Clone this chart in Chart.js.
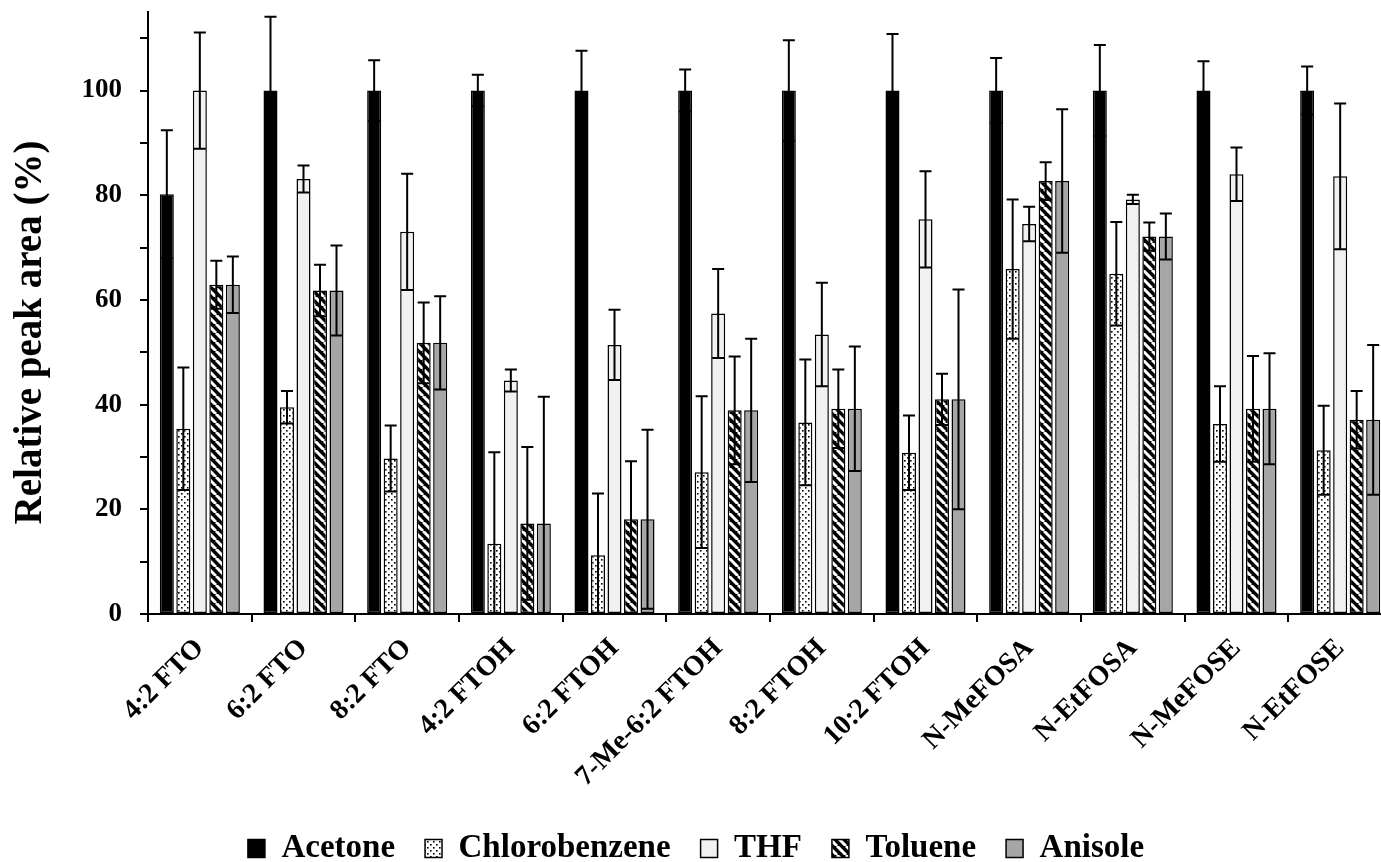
<!DOCTYPE html>
<html>
<head>
<meta charset="utf-8">
<script src="https://cdn.jsdelivr.net/npm/chart.js@4.4.0/dist/chart.umd.min.js"></script>
<style>
  html, body { margin: 0; padding: 0; background: #fff; overflow: hidden; }
  #wrap { position: absolute; left: 0; top: 0; width: 1400px; height: 862px; }
</style>
</head>
<body>
<div id="wrap"><canvas id="c"></canvas></div>
<script>
// ---- data ----
const categories = ['4:2 FTO', '6:2 FTO', '8:2 FTO', '4:2 FTOH', '6:2 FTOH', '7-Me-6:2 FTOH',
  '8:2 FTOH', '10:2 FTOH', 'N-MeFOSA', 'N-EtFOSA', 'N-MeFOSE', 'N-EtFOSE'];
const seriesNames = ['Acetone', 'Chlorobenzene', 'THF', 'Toluene', 'Anisole'];

const acetone    = [80.2, 100, 100, 100, 100, 100, 100, 100, 100, 100, 100, 100];
const acetoneErr = [12.2, 14.1, 5.8, 3.0, 7.6, 4.0, 9.6, 10.8, 6.2, 8.7, 5.6, 4.6];
const chloro     = [35.4, 39.5, 29.7, 13.4, 11.2, 27.1, 36.6, 30.8, 65.9, 65.0, 36.3, 31.3];
const chloroErr  = [11.7, 3.1, 6.3, 17.5, 11.8, 14.5, 12.0, 7.1, 13.3, 9.9, 7.2, 8.5];
const thf        = [100, 83.1, 73.0, 44.6, 51.4, 57.4, 53.4, 75.4, 74.5, 79.2, 84.0, 83.6];
const thfErr     = [11.1, 2.6, 11.1, 2.1, 6.7, 8.5, 9.9, 9.2, 3.3, 0.9, 5.1, 13.9];
const toluene    = [62.9, 61.8, 51.8, 17.3, 18.1, 38.9, 39.2, 41.0, 82.7, 72.1, 39.2, 37.1];
const tolueneErr = [4.6, 4.9, 7.7, 14.6, 11.1, 10.3, 7.5, 4.9, 3.6, 2.7, 10.1, 5.5];
const anisole    = [62.9, 61.8, 51.8, 17.3, 18.1, 38.9, 39.2, 41.0, 82.7, 72.1, 39.2, 37.1];
const anisoleErr = [5.4, 8.6, 8.9, 24.2, 17.1, 13.7, 11.9, 21.0, 13.7, 4.4, 10.6, 14.3];

const yTitle = 'Relative peak area (%)';

// ---- patterns ----
function makeTile(w, h, draw) {
  const c = document.createElement('canvas');
  c.width = w; c.height = h;
  const g = c.getContext('2d');
  draw(g, w, h);
  return g.createPattern(c, 'repeat');
}
const dotPattern = makeTile(6, 6, (g, w, h) => {
  g.fillStyle = '#fff'; g.fillRect(0, 0, w, h);
  g.fillStyle = '#000';
  g.fillRect(1, 1, 1.6, 1.6);
  g.fillRect(4, 4, 1.6, 1.6);
});
const stripePattern = makeTile(9, 9, (g, w, h) => {
  g.fillStyle = '#000'; g.fillRect(0, 0, w, h);
  g.strokeStyle = '#fff'; g.lineWidth = 3;
  for (let k = -1; k <= 1; k++) {
    g.beginPath();
    g.moveTo(k * w, 0);
    g.lineTo(k * w + w, h);
    g.stroke();
  }
});

const values = [acetone, chloro, thf, toluene, anisole];
const errors = [acetoneErr, chloroErr, thfErr, tolueneErr, anisoleErr];
const fills = ['#000000', dotPattern, '#f1f1f1', stripePattern, '#a6a6a6'];

const FONT = "'Liberation Serif', 'Times New Roman', serif";

const errorBars = {
  id: 'errorBars',
  afterDatasetsDraw(chart) {
    const g = chart.ctx;
    const ys = chart.scales.y;
    const area = chart.chartArea;
    g.save();
    g.beginPath();
    g.rect(area.left - 2, area.top - 4, area.right - area.left + 4, area.bottom - area.top + 4);
    g.clip();
    g.strokeStyle = '#000';
    g.lineWidth = 2;
    chart.data.datasets.forEach((ds, i) => {
      const meta = chart.getDatasetMeta(i);
      meta.data.forEach((el, j) => {
        const v = ds.data[j], e = ds.err[j];
        const x = el.x, hw = el.width / 2 - 1;
        const yTop = ys.getPixelForValue(v + e);
        const lowV = v - e;
        const yLow = ys.getPixelForValue(Math.max(lowV, 0));
        g.beginPath();
        g.moveTo(x, yLow); g.lineTo(x, yTop);
        g.moveTo(x - hw, yTop); g.lineTo(x + hw, yTop);
        if (lowV > 0) { g.moveTo(x - hw, yLow); g.lineTo(x + hw, yLow); }
        g.stroke();
      });
    });
    g.restore();
  }
};

new Chart(document.getElementById('c'), {
  type: 'bar',
  data: {
    labels: categories,
    datasets: seriesNames.map((n, i) => ({
      label: n,
      data: values[i],
      err: errors[i],
      backgroundColor: fills[i],
      borderColor: '#000',
      borderWidth: 1.5,
      borderSkipped: false,
      categoryPercentage: 0.796,
      barPercentage: 0.85
    }))
  },
  options: {
    responsive: true,
    maintainAspectRatio: false,
    animation: false,
    devicePixelRatio: 1,
    layout: { padding: { left: 0, right: 8, top: 12, bottom: -13 } },
    plugins: {
      tooltip: { enabled: false },
      legend: {
        position: 'bottom',
        labels: {
          color: '#000',
          font: { family: FONT, size: 33, weight: 'bold' },
          boxWidth: 17,
          boxHeight: 18,
          padding: 30
        }
      }
    },
    scales: {
      x: {
        offset: true,
        grid: { display: true, drawOnChartArea: false, drawTicks: true, tickLength: 8, color: '#000', lineWidth: 2, offset: true },
        border: { display: true, color: '#000', width: 2 },
        ticks: {
          color: '#000',
          font: { family: FONT, size: 28, weight: 'bold' },
          minRotation: 45, maxRotation: 45,
          padding: 10,
          autoSkip: false
        },
        afterFit(scale) { scale.height = 188; }
      },
      y: {
        min: 0, max: 115,
        grid: { display: true, drawOnChartArea: false, drawTicks: true, tickLength: 8, color: '#000', lineWidth: 2 },
        border: { display: true, color: '#000', width: 2 },
        ticks: {
          stepSize: 10,
          color: '#000',
          padding: 18,
          font: { family: FONT, size: 27, weight: 'bold', lineHeight: 0.6 },
          callback: (v) => (v % 20 === 0 ? v : '')
        },
        afterBuildTicks(scale) { scale.ticks = scale.ticks.filter(t => t.value % 10 === 0); },
        title: {
          display: true,
          text: yTitle + '\u00A0\u00A0\u00A0\u00A0',
          color: '#000',
          font: { family: FONT, size: 39, weight: 'bold' },
          padding: { top: 8, bottom: 0 }
        },
        afterFit(scale) { scale.width = 148; scale.paddingTop = 0; scale.paddingBottom = 0; }
      }
    }
  },
  plugins: [errorBars]
});
</script>
</body>
</html>
